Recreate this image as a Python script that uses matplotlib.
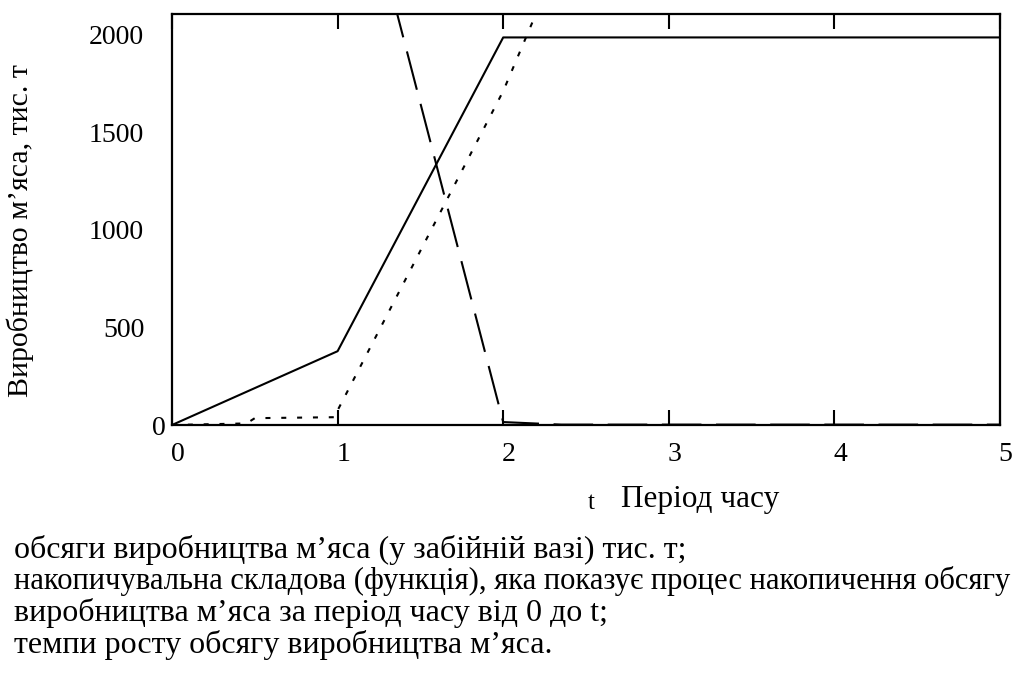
import matplotlib
matplotlib.use('Agg')
import matplotlib.pyplot as plt
import matplotlib.transforms as mtrans

# values
t_volume = [0, 1, 2, 5]
volume = [0, 378, 1985, 1985]

t_accum = [0, 0.45, 0.5, 0.99, 1.0, 2.0, 2.2]
accum = [0, 8, 35, 40, 75, 1710, 2110]

t_rate = [1.0, 2.0, 2.35, 5]
rate = [3280, 15, 2, 2]

xticks = [0, 1, 2, 3, 4, 5]
ylabels_at = [500, 1000, 1500, 2000]
ytick_marks = [1000, 2000]

ylabel = 'Виробництво м’яса, тис. т'
xlabel_t = 't'
xlabel = 'Період часу'
notes = [
    'обсяги виробництва м’яса (у забійній вазі) тис. т;',
    'накопичувальна складова (функція), яка показує процес накопичення обсягу',
    'виробництва м’яса за період часу від 0 до t;',
    'темпи росту обсягу виробництва м’яса.',
]
note_sizes = [23, 22.1, 23, 23]

plt.rcParams['font.family'] = ['Liberation Serif', 'DejaVu Serif']

fig = plt.figure(figsize=(10.19, 6.77), dpi=100)
ax = fig.add_axes([172 / 1019, 1 - 425 / 677, 828 / 1019, 411 / 677])

ax.plot(t_volume, volume, color='black', lw=1.5)
ax.plot(t_accum, accum, color='black', lw=1.5, dashes=(2.4, 5.2))
ax.plot(t_rate, rate, color='black', lw=1.5, dashes=(19, 7))

ax.set_xlim(0, 5)
ax.set_ylim(0, 2105)
for s in ax.spines.values():
    s.set_linewidth(1.6)

ax.set_xticks(xticks)
ax.set_xticklabels([str(v) for v in xticks], fontsize=20)
ax.tick_params(axis='x', direction='in', length=11, width=1.5,
               top=True, pad=12)
offset = mtrans.ScaledTranslation(4 / 72, 0, fig.dpi_scale_trans)
for lab in ax.get_xticklabels():
    lab.set_transform(lab.get_transform() + offset)

ax.set_yticks(ylabels_at)
ax.set_yticklabels([str(v) for v in ylabels_at], fontsize=20)
ax.tick_params(axis='y', which='major', length=0, pad=20)
ax.set_yticks(ytick_marks, minor=True)
ax.tick_params(axis='y', which='minor', direction='in', length=11,
               width=1.5, right=True, labelleft=False)
ax.text(-0.008, -20, '0', transform=ax.get_yaxis_transform(),
        ha='right', va='center', fontsize=20)

fig.text(20 / 1019, 1 - 231 / 677, ylabel, rotation=90, ha='center',
         va='center', fontsize=21.5)
fig.text(591 / 1019, 1 - 503 / 677, xlabel_t, ha='center', va='center',
         fontsize=18)
fig.text(621 / 1019, 1 - 500 / 677, xlabel, ha='left', va='center',
         fontsize=22.5)

for i, (line, size) in enumerate(zip(notes, note_sizes)):
    fig.text(14 / 1019, 1 - (558 + 31.5 * i) / 677, line, ha='left',
             va='baseline', fontsize=size)

fig.savefig('out.png', dpi=100)
